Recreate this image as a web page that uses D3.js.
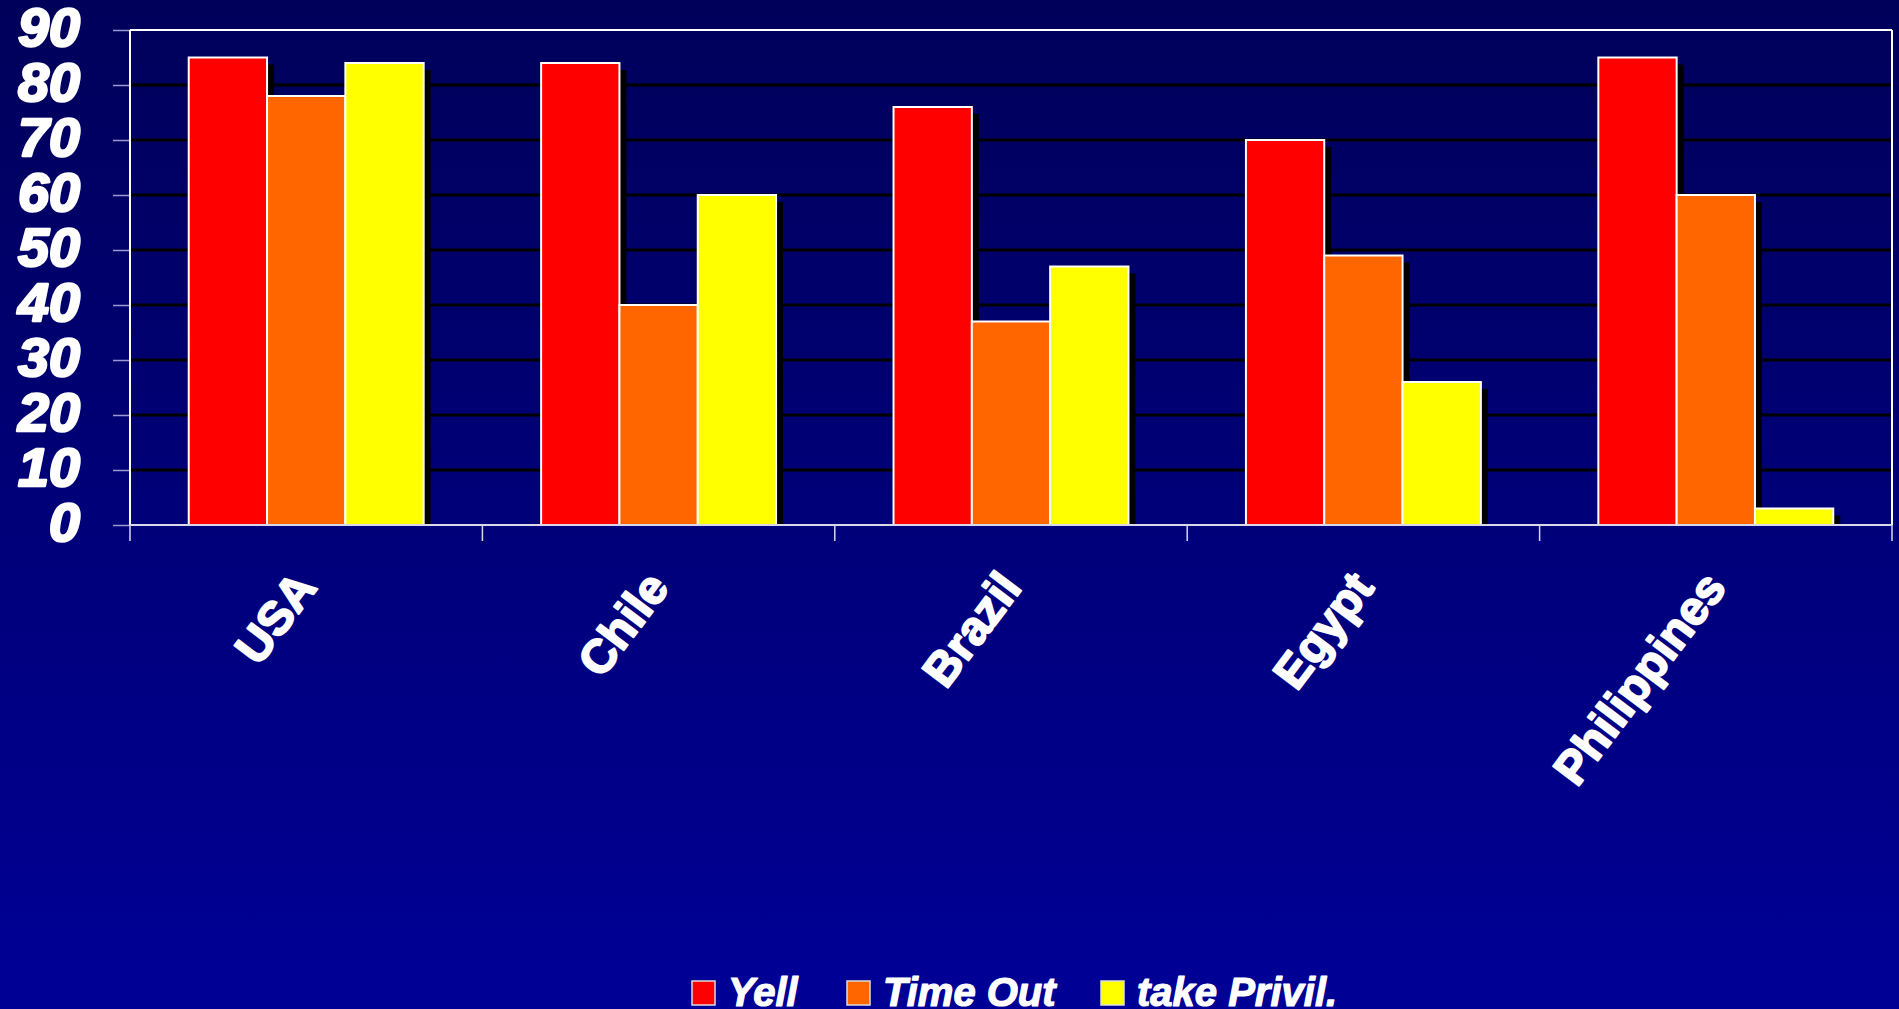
<!DOCTYPE html>
<html>
<head>
<meta charset="utf-8">
<script src="https://cdn.jsdelivr.net/npm/d3@7"></script>
<style>
html,body{margin:0;padding:0;background:#000078;}
svg{display:block;}
text{font-family:"Liberation Sans",Arial,sans-serif;font-weight:bold;fill:#fff;}
</style>
</head>
<body>
<svg id="chart" width="1899" height="1009"></svg>
<script>
const categories = ["USA", "Chile", "Brazil", "Egypt", "Philippines"];
const seriesNames = ["Yell", "Time Out", "take Privil."];
const yell = [85, 84, 76, 70, 85];
const timeOut = [78, 40, 37, 49, 60];
const takePrivil = [84, 60, 47, 26, 3];
const yTicks = [0, 10, 20, 30, 40, 50, 60, 70, 80, 90];
const colors = ["#ff0000", "#ff6600", "#ffff00"];
const seriesValues = [yell, timeOut, takePrivil];

const W = 1899, H = 1009;
const plot = {left: 130, right: 1892, top: 30, bottom: 525};
const svg = d3.select("#chart");

const defs = svg.append("defs");
const grad = defs.append("linearGradient").attr("id", "bg").attr("x1", 0).attr("y1", 0).attr("x2", 0).attr("y2", 1);
grad.append("stop").attr("offset", "0%").attr("stop-color", "#00005a");
grad.append("stop").attr("offset", "100%").attr("stop-color", "#000096");
defs.append("clipPath").attr("id", "plotclip").append("rect")
  .attr("x", plot.left).attr("y", plot.top).attr("width", plot.right - plot.left).attr("height", plot.bottom - plot.top);

svg.append("rect").attr("width", W).attr("height", H).attr("fill", "url(#bg)");

const x0 = d3.scaleBand().domain(categories).range([plot.left, plot.right]).padding(0);
const bw = x0.bandwidth();
const x1 = d3.scaleBand().domain(seriesNames).range([bw / 6, bw * 5 / 6]).padding(0);
const y = d3.scaleLinear().domain([0, 90]).range([plot.bottom, plot.top]);

// gridlines
svg.append("g").selectAll("line").data(yTicks.filter(t => t > 0 && t < 90)).join("line")
  .attr("x1", plot.left).attr("x2", plot.right)
  .attr("y1", d => y(d)).attr("y2", d => y(d))
  .attr("stroke", "#000000").attr("stroke-width", 3);

// y axis ticks & labels
const yAxis = d3.axisLeft(y).tickValues(yTicks).tickSize(17).tickPadding(0).tickFormat(d3.format("d"));
const gy = svg.append("g").attr("transform", `translate(${plot.left},0)`).call(yAxis);
gy.select(".domain").remove();
gy.selectAll(".tick line").attr("stroke", "#9a9ad0").attr("stroke-width", 1.5);
gy.selectAll(".tick text")
  .attr("x", null).attr("dy", null)
  .attr("transform", `translate(${80 - plot.left},15) scale(1.05,1)`)
  .attr("text-anchor", "end")
  .style("font-family", "'Liberation Sans', Arial, sans-serif")
  .style("font-weight", "bold").style("font-style", "italic")
  .style("font-size", "53px").attr("fill", "#fff")
  .attr("stroke", "#fff").attr("stroke-width", 2.5).attr("stroke-linejoin", "round");

// data rows
const rows = categories.map((c, i) => ({cat: c, vals: seriesNames.map((s, j) => ({s, j, v: seriesValues[j][i]}))}));

// shadows
const sh = svg.append("g").attr("clip-path", "url(#plotclip)");
rows.forEach(r => {
  sh.selectAll(null).data(r.vals).join("rect")
    .attr("x", d => x0(r.cat) + x1(d.s) + 7)
    .attr("y", d => y(d.v) + 7)
    .attr("width", x1.bandwidth())
    .attr("height", d => Math.max(0, y(0) - y(d.v)))
    .attr("fill", "#000");
});
// bars
const bg = svg.append("g");
rows.forEach(r => {
  bg.selectAll(null).data(r.vals).join("rect")
    .attr("x", d => x0(r.cat) + x1(d.s))
    .attr("y", d => y(d.v))
    .attr("width", x1.bandwidth())
    .attr("height", d => y(0) - y(d.v))
    .attr("fill", d => colors[d.j])
    .attr("stroke", "#ffffff").attr("stroke-width", 2);
});

// plot frame
svg.append("line").attr("x1", plot.left).attr("x2", plot.right).attr("y1", plot.top).attr("y2", plot.top)
  .attr("stroke", "#fff").attr("stroke-width", 2);
svg.append("line").attr("x1", plot.right).attr("x2", plot.right).attr("y1", plot.top).attr("y2", plot.bottom)
  .attr("stroke", "#fff").attr("stroke-width", 2);
svg.append("line").attr("x1", plot.left).attr("x2", plot.left).attr("y1", plot.top).attr("y2", plot.bottom)
  .attr("stroke", "#fff").attr("stroke-width", 2);

// x axis
const xTickPos = categories.map(c => x0(c)).concat([plot.right]);
svg.append("line").attr("x1", plot.left).attr("x2", plot.right).attr("y1", plot.bottom).attr("y2", plot.bottom)
  .attr("stroke", "#d8d8e8").attr("stroke-width", 2);
svg.append("g").selectAll("line").data(xTickPos).join("line")
  .attr("x1", d => d).attr("x2", d => d).attr("y1", plot.bottom).attr("y2", plot.bottom + 16)
  .attr("stroke", "#d8d8e8").attr("stroke-width", 1.5);

svg.append("g").selectAll("text").data(categories).join("text")
  .attr("transform", d => `translate(${x0(d) + bw / 2 + 12},${588}) rotate(-53)`)
  .attr("text-anchor", "end")
  .style("font-size", "47px")
  .attr("stroke", "#fff").attr("stroke-width", 2).attr("stroke-linejoin", "round")
  .text(d => d);

// legend
const legendX = [692, 847, 1101];
const lg = svg.append("g");
seriesNames.forEach((s, i) => {
  lg.append("rect").attr("x", legendX[i]).attr("y", 981).attr("width", 23).attr("height", 24)
    .attr("fill", colors[i]).attr("stroke", "#ddd").attr("stroke-width", 1.5);
  lg.append("text").attr("x", legendX[i] + 36).attr("y", 1006)
    .style("font-size", "40px").style("font-style", "italic")
    .attr("stroke", "#fff").attr("stroke-width", 1.2).attr("stroke-linejoin", "round")
    .text(s);
});
</script>
</body>
</html>
